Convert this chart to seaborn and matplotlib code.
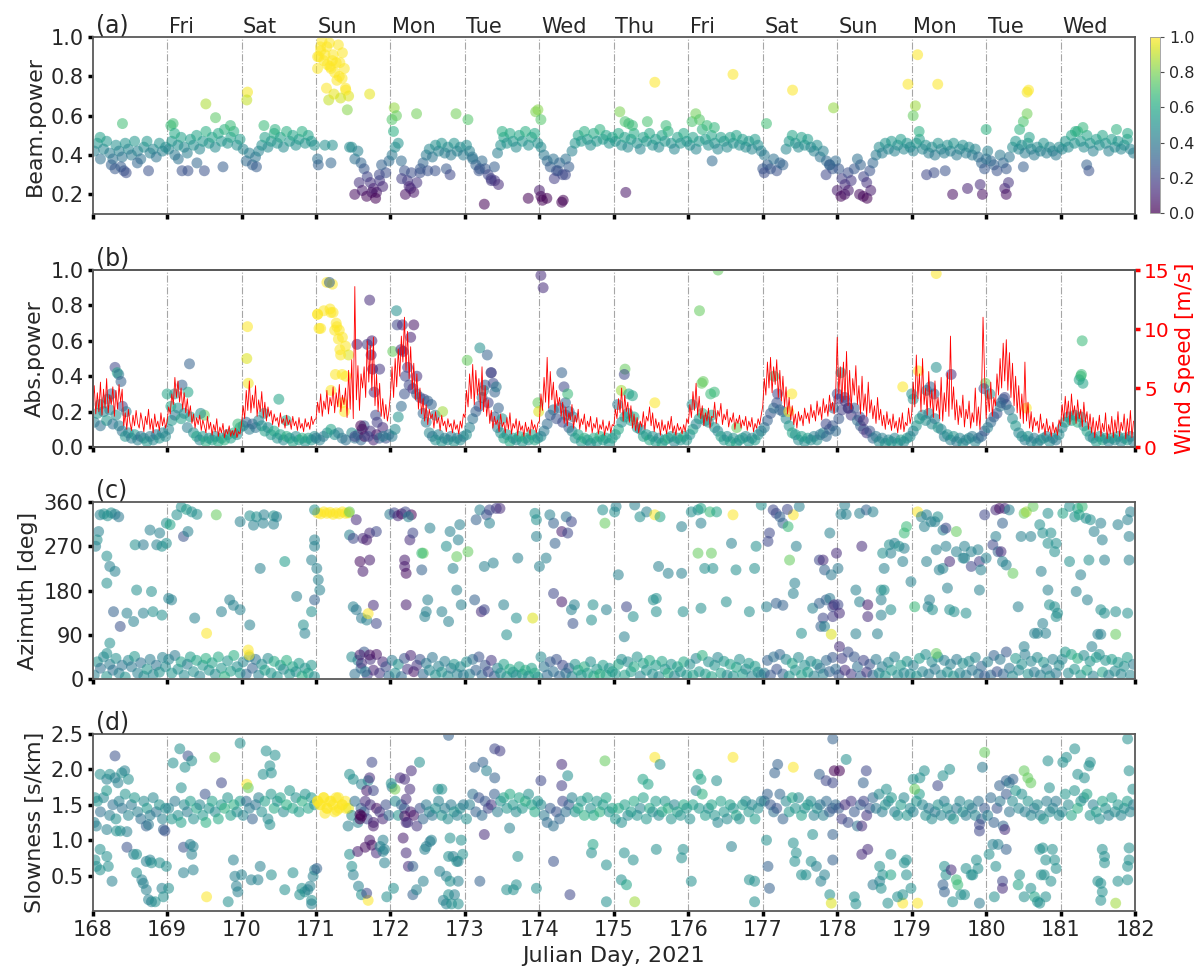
import numpy as np
import pandas as pd
import matplotlib
matplotlib.use("Agg")
import matplotlib.pyplot as plt
import matplotlib.transforms as mtransforms
from matplotlib.colors import Normalize
import seaborn as sns

sns.set_style("white")
plt.rcParams['font.family'] = ['DejaVu Sans']

# ---------------- data ----------------
first_day = 168
day_ticks = list(range(168, 183))
day_lines = list(range(169, 182))
day_names = ["Fri", "Sat", "Sun", "Mon", "Tue", "Wed", "Thu",
             "Fri", "Sat", "Sun", "Mon", "Tue", "Wed"]

# hourly beam power (also the colour of every hourly point), one row per day 168..181
beam_power = [
    [0.42,0.46,0.38,0.43,0.47,0.41,0.38,0.45,0.42,0.39,0.46,0.43,0.40,0.47,0.42,0.38,0.44,0.47,0.41,0.43,0.39,0.46,0.42,0.44],
    [0.43,0.47,0.40,0.45,0.49,0.44,0.41,0.48,0.45,0.50,0.43,0.47,0.52,0.46,0.49,0.44,0.51,0.47,0.53,0.46,0.49,0.52,0.45,0.48],
    [0.43,0.37,0.41,0.35,0.39,0.42,0.45,0.49,0.44,0.47,0.51,0.46,0.49,0.44,0.52,0.47,0.50,0.45,0.48,0.52,0.46,0.50,0.47,0.45],
    [0.90,0.93,0.88,0.95,0.85,0.91,0.87,0.80,0.92,0.74,0.70,0.44,0.38,0.42,0.36,0.33,0.29,0.26,0.23,0.21,0.27,0.24,0.31,0.37],
    [0.40,0.44,0.46,0.37,0.32,0.27,0.23,0.21,0.26,0.31,0.36,0.40,0.43,0.39,0.45,0.42,0.46,0.41,0.44,0.40,0.46,0.42,0.44,0.40],
    [0.45,0.42,0.38,0.35,0.32,0.37,0.33,0.30,0.27,0.34,0.41,0.45,0.49,0.46,0.51,0.47,0.44,0.50,0.47,0.52,0.45,0.49,0.51,0.46],
    [0.44,0.40,0.37,0.34,0.38,0.32,0.36,0.30,0.38,0.34,0.42,0.46,0.50,0.47,0.52,0.48,0.45,0.51,0.47,0.53,0.48,0.50,0.46,0.49],
    [0.47,0.51,0.45,0.49,0.44,0.48,0.51,0.46,0.43,0.49,0.47,0.51,0.45,0.48,0.44,0.50,0.47,0.52,0.46,0.43,0.49,0.46,0.51,0.47],
    [0.45,0.49,0.43,0.47,0.53,0.48,0.45,0.50,0.46,0.43,0.49,0.47,0.44,0.49,0.46,0.50,0.45,0.48,0.44,0.47,0.43,0.48,0.45,0.42],
    [0.40,0.35,0.33,0.38,0.32,0.36,0.35,0.43,0.47,0.50,0.46,0.44,0.49,0.45,0.48,0.44,0.42,0.45,0.39,0.42,0.37,0.35,0.33,0.37],
    [0.33,0.28,0.25,0.31,0.27,0.33,0.38,0.35,0.29,0.26,0.32,0.36,0.40,0.44,0.41,0.46,0.43,0.47,0.42,0.45,0.48,0.43,0.46,0.44],
    [0.42,0.46,0.48,0.43,0.45,0.41,0.44,0.40,0.46,0.43,0.41,0.45,0.42,0.46,0.40,0.43,0.45,0.41,0.44,0.40,0.43,0.39,0.36,0.33],
    [0.42,0.37,0.35,0.32,0.40,0.36,0.33,0.39,0.44,0.47,0.43,0.45,0.41,0.46,0.43,0.40,0.44,0.42,0.46,0.41,0.44,0.42,0.40,0.44],
    [0.43,0.47,0.44,0.50,0.46,0.52,0.47,0.44,0.50,0.46,0.42,0.48,0.45,0.50,0.46,0.42,0.48,0.44,0.47,0.43,0.45,0.48,0.43,0.41],
]

abs_power = [
    [0.14,0.19,0.12,0.20,0.15,0.21,0.13,0.18,0.12,0.09,0.06,0.08,0.05,0.07,0.04,0.06,0.05,0.03,0.06,0.04,0.07,0.05,0.08,0.06],
    [0.10,0.15,0.18,0.22,0.16,0.19,0.11,0.17,0.08,0.06,0.04,0.06,0.03,0.05,0.04,0.06,0.03,0.05,0.04,0.07,0.05,0.08,0.07,0.11],
    [0.12,0.14,0.10,0.13,0.11,0.15,0.12,0.09,0.11,0.07,0.09,0.05,0.07,0.04,0.06,0.05,0.03,0.06,0.04,0.05,0.03,0.05,0.04,0.06],
    [0.75,0.67,0.77,0.93,0.78,0.76,0.70,0.66,0.62,0.57,0.52,0.08,0.05,0.07,0.04,0.12,0.58,0.09,0.04,0.07,0.44,0.11,0.05,0.07],
    [0.06,0.10,0.17,0.23,0.30,0.45,0.62,0.69,0.40,0.28,0.19,0.14,0.08,0.06,0.04,0.07,0.03,0.05,0.04,0.06,0.03,0.05,0.04,0.06],
    [0.07,0.11,0.16,0.20,0.23,0.28,0.35,0.25,0.42,0.17,0.11,0.08,0.05,0.07,0.03,0.05,0.04,0.06,0.03,0.05,0.04,0.07,0.04,0.05],
    [0.06,0.09,0.13,0.18,0.21,0.16,0.22,0.14,0.18,0.11,0.09,0.05,0.07,0.03,0.05,0.04,0.02,0.05,0.03,0.06,0.04,0.05,0.02,0.05],
    [0.07,0.10,0.14,0.17,0.19,0.15,0.17,0.11,0.10,0.06,0.07,0.04,0.06,0.03,0.05,0.02,0.04,0.05,0.06,0.03,0.05,0.04,0.06,0.04],
    [0.07,0.10,0.13,0.16,0.19,0.15,0.14,0.18,0.11,0.09,0.06,0.04,0.06,0.03,0.05,0.02,0.04,0.05,0.06,0.03,0.05,0.04,0.07,0.09],
    [0.11,0.15,0.19,0.22,0.25,0.21,0.20,0.16,0.12,0.08,0.07,0.04,0.06,0.03,0.05,0.04,0.06,0.04,0.07,0.08,0.06,0.10,0.12,0.09],
    [0.16,0.21,0.26,0.22,0.18,0.22,0.15,0.12,0.10,0.08,0.09,0.05,0.06,0.03,0.05,0.02,0.04,0.03,0.05,0.02,0.04,0.03,0.05,0.06],
    [0.09,0.12,0.16,0.18,0.15,0.19,0.13,0.16,0.11,0.10,0.06,0.07,0.04,0.06,0.03,0.05,0.02,0.04,0.05,0.06,0.03,0.05,0.06,0.09],
    [0.11,0.14,0.17,0.19,0.23,0.27,0.24,0.21,0.16,0.12,0.08,0.06,0.04,0.06,0.03,0.05,0.02,0.04,0.05,0.06,0.03,0.05,0.04,0.07],
    [0.11,0.14,0.17,0.15,0.18,0.14,0.17,0.12,0.09,0.06,0.05,0.03,0.06,0.04,0.05,0.03,0.05,0.04,0.06,0.03,0.05,0.04,0.06,0.03],
]

azimuth = [
    [8,35,22,45,5,30,18,42,12,28,4,38,25,46,12,33,6,20,40,9,28,14,44,25],
    [40,12,48,20,35,8,30,45,15,38,6,28,42,18,33,10,45,22,5,37,16,48,25,12],
    [35,10,45,22,40,8,30,18,42,12,36,5,28,20,38,10,25,15,32,6,22,12,28,5],
    [338,336,340,337,339,335,338,336,340,337,338,45,10,38,22,55,8,40,18,50,12,35,25,6],
    [38,12,30,5,42,20,48,15,28,40,10,32,18,44,8,26,14,36,6,22,30,10,25,8],
    [35,10,40,18,45,8,28,15,38,6,22,12,30,5,20,14,8,25,10,18,6,22,12,4],
    [45,25,8,35,15,40,6,28,12,22,5,30,18,8,25,12,35,6,20,10,28,8,22,15],
    [10,30,40,8,35,15,25,45,6,32,18,38,10,28,5,36,20,12,30,6,25,15,35,8],
    [30,8,42,15,48,10,35,5,28,44,12,36,8,30,6,24,40,10,20,32,6,26,14,8],
    [12,38,8,45,20,50,10,40,6,32,18,44,8,28,14,36,6,30,22,10,38,15,44,20],
    [8,42,18,55,10,45,25,6,38,14,30,8,40,12,25,6,34,18,45,8,28,12,36,10],
    [28,6,42,15,50,10,35,20,45,8,38,14,30,6,40,12,32,8,36,18,44,10,26,6],
    [35,8,48,15,40,10,55,22,6,42,18,30,50,10,36,14,44,8,34,20,6,40,12,28],
    [40,55,12,50,20,42,8,48,18,36,6,44,50,14,38,8,40,16,34,10,26,44,8,30],
]

slowness = [
    [1.25,1.55,1.40,1.60,1.70,1.35,1.50,1.30,1.55,1.45,1.65,1.35,1.50,1.60,1.40,1.30,1.55,1.45,1.35,1.60,1.40,1.50,1.30,1.45],
    [1.45,1.30,1.55,1.35,1.25,1.50,1.40,1.55,1.30,1.45,1.50,1.35,1.25,1.45,1.55,1.40,1.30,1.50,1.45,1.60,1.35,1.50,1.40,1.55],
    [1.35,1.55,1.45,1.30,1.50,1.60,1.40,1.55,1.30,1.65,1.45,1.55,1.60,1.40,1.50,1.70,1.45,1.60,1.40,1.55,1.65,1.45,1.60,1.50],
    [1.55,1.50,1.60,1.45,1.55,1.50,1.60,1.45,1.50,1.55,1.45,1.35,1.55,1.25,1.45,1.40,1.30,1.50,1.25,1.45,1.40,1.30,1.50,1.35],
    [1.75,1.55,1.35,1.50,1.45,1.25,1.40,1.35,1.20,1.45,1.30,1.50,1.40,1.35,1.45,1.55,1.35,1.45,1.30,1.50,1.40,1.35,1.45,1.50],
    [1.30,1.50,1.65,1.40,1.60,1.35,1.55,1.45,1.50,1.65,1.40,1.55,1.60,1.45,1.65,1.50,1.40,1.60,1.45,1.55,1.65,1.50,1.40,1.55],
    [1.50,1.35,1.25,1.45,1.20,1.40,1.30,1.55,1.40,1.50,1.60,1.40,1.45,1.55,1.35,1.60,1.45,1.35,1.55,1.40,1.50,1.60,1.40,1.45],
    [1.30,1.45,1.25,1.50,1.35,1.40,1.55,1.35,1.45,1.60,1.30,1.45,1.40,1.55,1.35,1.40,1.55,1.45,1.30,1.50,1.40,1.35,1.50,1.45],
    [1.30,1.50,1.70,1.45,1.65,1.35,1.45,1.50,1.35,1.25,1.55,1.40,1.30,1.50,1.45,1.35,1.30,1.50,1.55,1.40,1.50,1.30,1.45,1.55],
    [1.55,1.65,1.50,1.40,1.45,1.65,1.30,1.55,1.40,1.60,1.45,1.60,1.35,1.45,1.50,1.55,1.35,1.45,1.50,1.35,1.55,1.40,1.45,1.50],
    [1.45,1.30,1.50,1.25,1.55,1.40,1.20,1.50,1.55,1.35,1.45,1.60,1.45,1.65,1.40,1.50,1.55,1.60,1.40,1.35,1.50,1.60,1.35,1.45],
    [1.40,1.55,1.65,1.50,1.35,1.45,1.30,1.40,1.50,1.35,1.55,1.45,1.35,1.30,1.45,1.55,1.40,1.35,1.50,1.45,1.35,1.55,1.30,1.45],
    [1.35,1.60,1.25,1.45,1.55,1.20,1.65,1.40,1.55,1.70,1.45,1.65,1.40,1.55,1.35,1.45,1.50,1.35,1.30,1.55,1.40,1.45,1.55,1.35],
    [1.40,1.65,1.50,1.35,1.70,1.45,1.55,1.60,1.65,1.35,1.50,1.40,1.30,1.55,1.45,1.35,1.60,1.40,1.50,1.35,1.45,1.55,1.40,1.50],
]

# half-hourly wind speed [m/s], one row per day
wind_speed = [
    [3.5,5.2,2.8,4.6,3.0,5.5,2.7,4.9,3.3,5.8,2.9,4.4,3.6,5.1,2.6,4.8,3.2,5.3,3.8,4.9,1.8,2.9,1.5,3.2,2.1,1.4,2.7,1.8,3.1,2.0,1.6,2.9,2.2,1.3,2.6,1.9,3.2,1.5,2.4,1.2,2.8,1.7,2.2,1.4,2.9,1.8,2.5,1.6],
    [2.2,3.4,2.8,4.5,3.6,5.9,4.2,5.6,3.8,5.0,3.2,4.6,2.9,4.1,2.6,3.5,2.0,2.8,1.6,2.5,1.9,2.7,1.4,2.3,1.8,1.2,2.6,1.5,2.1,1.0,1.9,1.3,2.4,0.9,1.7,1.2,2.0,0.8,1.5,1.1,1.8,0.9,1.4,1.0,1.6,0.8,1.3,1.1],
    [2.0,3.5,2.4,4.8,3.1,5.6,2.9,4.4,3.3,5.2,2.6,4.0,3.0,4.7,2.5,3.8,2.2,3.4,2.6,3.1,1.9,2.8,2.2,2.5,1.7,2.9,2.0,2.4,1.6,2.7,1.9,2.3,1.5,2.6,1.8,2.2,1.4,2.5,1.6,2.0,1.3,2.4,1.7,2.1,1.5,2.6,1.9,2.3],
    [2.4,3.8,2.9,4.5,2.6,3.9,3.2,4.8,2.8,4.2,3.5,5.1,2.9,4.6,3.4,5.3,3.0,4.4,3.6,5.0,2.5,6.5,3.2,7.4,2.4,13.6,4.0,6.9,3.1,6.2,5.0,6.8,4.2,9.0,5.5,8.6,4.8,9.3,3.5,6.2,3.0,5.4,2.6,4.1,2.4,3.6,2.2,3.1],
    [4.5,6.8,4.2,7.5,5.1,8.3,6.0,9.4,7.2,11.0,6.5,9.8,5.8,8.5,4.9,7.1,4.0,6.2,3.2,5.0,2.8,4.1,2.2,3.6,1.9,3.2,2.4,2.8,1.6,3.0,2.0,2.5,1.4,2.7,1.8,2.2,1.3,2.4,1.7,2.0,1.2,2.3,1.5,1.9,1.1,2.2,1.6,2.8],
    [2.5,4.8,3.4,6.2,4.1,7.0,3.6,6.5,4.4,5.8,3.2,6.8,3.0,5.2,2.6,4.0,2.0,3.1,1.6,2.6,1.9,2.3,1.3,2.8,1.7,2.1,1.2,2.5,1.5,2.9,1.1,2.0,1.6,2.4,1.0,2.2,1.4,1.8,0.9,2.1,1.3,1.7,1.0,2.3,1.5,1.9,1.2,2.0],
    [2.2,4.5,3.1,5.9,3.8,7.6,3.3,6.4,4.0,5.5,2.9,4.8,3.5,4.2,2.6,3.8,2.0,3.4,1.8,2.9,2.3,3.6,1.6,2.7,2.1,3.2,1.5,2.4,1.9,2.8,1.3,2.2,1.7,2.6,1.2,2.0,1.6,2.5,1.1,1.9,1.5,2.3,1.0,1.8,1.4,2.2,1.2,1.9],
    [1.8,3.2,2.4,4.1,2.9,5.0,2.2,4.4,3.0,3.8,2.1,3.5,1.6,2.8,1.4,2.5,1.2,2.2,1.7,3.0,1.5,2.6,2.2,3.4,1.8,2.9,1.3,2.4,1.6,2.1,1.0,2.3,1.4,1.9,1.1,2.2,1.5,2.6,1.2,1.8,1.0,2.0,1.4,1.7,1.1,1.9,1.3,2.4],
    [2.0,3.6,2.5,4.7,3.1,5.4,2.7,4.3,2.4,3.5,1.8,2.9,2.2,3.3,1.6,2.6,2.5,3.8,2.0,3.1,2.6,3.7,1.9,2.8,2.3,3.2,1.7,2.5,2.1,2.9,1.5,2.4,2.0,2.7,1.6,2.3,1.8,2.6,1.4,2.2,1.7,2.5,1.3,2.0,1.6,2.4,1.9,2.7],
    [3.5,5.8,4.4,7.2,5.0,7.6,4.6,6.8,5.3,7.4,4.2,6.5,3.9,6.0,3.4,5.1,2.8,4.2,2.3,3.5,1.9,2.8,1.6,3.0,2.2,2.7,1.8,3.3,2.4,2.9,2.0,3.6,2.5,3.1,2.2,3.9,2.7,3.4,2.3,4.1,2.9,3.6,2.6,4.4,3.1,3.8,2.8,4.6],
    [9.3,4.5,6.8,3.8,7.2,4.0,8.1,3.5,6.5,3.2,5.8,4.4,6.9,3.6,5.2,2.8,6.0,3.1,4.5,2.6,5.5,2.9,4.0,2.4,3.5,2.0,4.2,2.3,3.2,1.8,2.7,1.5,3.0,1.9,2.4,1.4,2.8,1.6,2.2,1.2,2.5,1.5,2.9,1.3,2.1,1.8,3.3,2.0],
    [2.8,5.5,3.4,7.8,4.1,6.2,3.0,7.5,3.6,5.0,2.7,6.4,3.3,4.8,2.5,5.6,3.1,4.2,2.4,5.9,2.2,4.6,3.0,6.3,2.6,9.4,3.2,5.1,2.3,4.0,1.9,3.5,2.5,4.4,1.7,3.2,2.4,3.9,1.6,2.9,2.1,5.0,1.8,3.4,1.5,4.2,11.0,6.0],
    [2.4,4.8,3.0,5.5,2.6,4.2,3.5,6.2,4.4,7.5,5.0,8.8,5.6,9.1,4.8,8.0,4.2,7.1,3.5,6.0,2.9,5.2,2.4,4.5,2.0,7.2,2.2,3.8,1.6,3.0,1.3,2.5,1.8,2.2,1.2,2.8,1.5,2.0,1.0,2.4,1.3,1.8,0.9,2.1,1.2,1.7,1.0,2.3],
    [1.8,3.6,2.2,4.3,2.5,3.9,1.9,4.5,2.7,3.5,2.0,4.0,2.4,3.2,1.7,3.8,2.1,3.0,1.5,2.8,1.2,2.5,0.8,2.2,1.4,2.7,0.9,2.0,1.3,2.9,0.7,1.9,1.1,2.6,0.8,2.3,1.2,3.0,0.9,2.1,1.4,2.8,0.7,2.4,1.0,3.1,0.8,2.2],
]

# extra detections (time [Julian day], value) in panel (a); colour = value
beam_extra = [
    (168.10,0.49),(168.25,0.35),(168.30,0.33),(168.38,0.34),(168.42,0.32),(168.45,0.31),(168.40,0.56),(168.75,0.32),(168.60,0.36),
    (169.05,0.55),(169.08,0.56),(169.10,0.51),(169.15,0.38),(169.20,0.32),(169.28,0.32),(169.40,0.36),(169.52,0.66),(169.50,0.32),(169.65,0.59),(169.75,0.34),(169.85,0.55),
    (170.08,0.72),(170.07,0.68),(170.20,0.34),(170.30,0.55),(170.45,0.53),
    (171.02,0.84),(171.04,0.90),(171.06,0.95),(171.08,0.98),(171.12,0.91),(171.15,0.86),(171.18,0.97),(171.20,0.84),(171.22,0.88),(171.25,0.82),(171.28,0.78),
    (171.30,0.96),(171.32,0.87),(171.35,0.79),(171.38,0.84),(171.40,0.73),(171.14,0.74),(171.17,0.68),(171.24,0.71),(171.33,0.69),(171.42,0.63),
    (171.02,0.38),(171.03,0.35),(171.12,0.45),(171.20,0.36),(171.22,0.45),(171.45,0.44),
    (171.52,0.20),(171.58,0.26),(171.62,0.22),(171.68,0.19),(171.75,0.21),(171.80,0.18),(171.72,0.71),(171.85,0.30),(171.88,0.35),
    (172.02,0.58),(172.05,0.64),(172.08,0.60),(172.04,0.52),(172.15,0.28),(172.20,0.20),(172.25,0.24),(172.28,0.31),(172.35,0.61),(172.40,0.33),(172.50,0.32),(172.60,0.32),(172.75,0.33),(172.80,0.30),(172.88,0.61),
    (173.04,0.58),(173.10,0.39),(173.20,0.33),(173.26,0.15),(173.35,0.28),(173.40,0.27),(173.45,0.25),(173.50,0.52),
    (173.95,0.62),(173.98,0.63),(174.02,0.58),(174.00,0.22),(174.02,0.19),(174.04,0.17),(174.10,0.18),(174.30,0.16),(174.32,0.17),(174.20,0.28),(174.25,0.32),(174.35,0.30),(173.85,0.18),
    (175.08,0.62),(175.15,0.57),(175.20,0.56),(175.25,0.55),(175.16,0.21),(175.55,0.77),(175.45,0.57),(175.70,0.55),
    (176.05,0.57),(176.10,0.61),(176.15,0.58),(176.25,0.55),(176.35,0.54),(176.60,0.81),(176.32,0.37),
    (177.05,0.56),(177.40,0.73),(177.00,0.33),(177.02,0.31),(177.85,0.30),(177.95,0.64),(177.90,0.35),
    (178.00,0.22),(178.05,0.19),(178.10,0.20),(178.15,0.22),(178.30,0.20),(178.35,0.19),(178.40,0.18),(178.45,0.22),
    (178.95,0.76),(179.08,0.91),(179.05,0.65),(179.02,0.60),(179.10,0.52),(179.35,0.76),(179.20,0.30),(179.30,0.31),(179.45,0.32),(179.55,0.20),
    (179.75,0.23),(179.95,0.20),(179.92,0.25),(180.00,0.53),(180.00,0.38),(180.25,0.23),(180.27,0.20),(180.30,0.26),(180.45,0.53),(180.50,0.57),
    (180.55,0.61),(180.58,0.49),(180.55,0.72),(180.57,0.73),(180.50,0.34),
    (181.35,0.35),(181.38,0.32),(181.20,0.52),(181.30,0.54),(181.75,0.53),(181.90,0.51),
]

# extra detections in panel (b): (time, abs power, beam power)
abs_extra = [
    (168.30,0.45,0.30),(168.33,0.42,0.50),(168.35,0.41,0.40),(168.38,0.37,0.35),(168.40,0.23,0.30),(168.25,0.30,0.35),(168.20,0.27,0.40),(168.10,0.24,0.45),(168.45,0.20,0.40),
    (169.00,0.30,0.50),(169.05,0.23,0.50),(169.20,0.35,0.35),(169.30,0.47,0.35),(169.28,0.31,0.50),(169.10,0.30,0.45),(169.50,0.18,0.60),(169.45,0.19,0.45),
    (170.08,0.68,0.75),(170.07,0.50,0.70),(170.09,0.36,0.72),(170.30,0.19,0.45),(170.50,0.27,0.50),(170.60,0.15,0.50),(169.95,0.13,0.55),
    (171.02,0.75,0.90),(171.04,0.67,0.90),(171.20,0.76,0.85),(171.22,0.92,0.90),(171.18,0.93,0.35),(171.25,0.66,0.90),(171.28,0.68,0.85),(171.30,0.61,0.90),
    (171.32,0.55,0.90),(171.33,0.52,0.85),(171.35,0.41,0.80),(171.26,0.41,0.85),(171.20,0.32,0.80),(171.35,0.25,0.75),(171.38,0.20,0.75),(171.40,0.40,0.80),
    (171.00,0.05,0.40),(171.05,0.04,0.42),(171.10,0.06,0.40),(171.15,0.08,0.45),(171.20,0.10,0.50),(171.25,0.07,0.45),(171.30,0.08,0.42),(171.35,0.05,0.40),(171.40,0.04,0.38),
    (171.55,0.58,0.22),(171.60,0.12,0.15),(171.62,0.10,0.20),(171.65,0.06,0.20),(171.72,0.83,0.25),(171.75,0.60,0.22),(171.74,0.52,0.20),(171.76,0.44,0.20),
    (171.78,0.31,0.25),(171.80,0.18,0.30),(171.82,0.14,0.28),(171.70,0.06,0.30),(171.85,0.05,0.35),(171.90,0.06,0.40),(171.52,0.06,0.30),
    (172.03,0.54,0.60),(172.08,0.77,0.45),(172.09,0.69,0.30),(172.16,0.69,0.25),(172.14,0.55,0.25),(172.17,0.54,0.22),(172.20,0.40,0.30),(172.25,0.35,0.30),
    (172.30,0.33,0.25),(172.35,0.30,0.35),(172.45,0.27,0.30),(172.50,0.26,0.35),(172.55,0.24,0.35),(172.60,0.18,0.40),(172.70,0.20,0.65),
    (173.03,0.49,0.60),(173.20,0.56,0.45),(173.30,0.52,0.35),(173.35,0.42,0.30),(173.38,0.36,0.30),(173.40,0.31,0.35),(173.42,0.34,0.40),(173.45,0.22,0.35),(173.50,0.16,0.45),(173.25,0.32,0.40),
    (174.02,0.97,0.25),(174.05,0.90,0.25),(173.98,0.25,0.60),(173.99,0.20,0.70),(174.30,0.42,0.35),(174.33,0.34,0.30),(174.35,0.25,0.35),(174.38,0.30,0.55),(174.40,0.20,0.35),(174.45,0.17,0.40),
    (175.15,0.44,0.60),(175.14,0.41,0.30),(175.10,0.32,0.65),(175.20,0.30,0.50),(175.25,0.29,0.50),(175.05,0.24,0.40),(175.55,0.25,0.80),
    (176.15,0.77,0.60),(176.18,0.36,0.60),(176.20,0.37,0.60),(176.30,0.30,0.55),(176.35,0.31,0.55),(176.05,0.24,0.45),(176.40,1.00,0.60),(176.65,0.11,0.60),
    (177.15,0.40,0.55),(177.20,0.30,0.30),(177.35,0.20,0.75),(177.39,0.30,0.80),(177.85,0.13,0.30),(177.95,0.22,0.35),
    (178.05,0.42,0.45),(178.00,0.30,0.30),(178.02,0.27,0.25),(178.10,0.28,0.30),(178.15,0.22,0.25),(178.30,0.17,0.30),(178.35,0.15,0.25),(178.88,0.34,0.80),
    (179.00,0.30,0.45),(179.02,0.27,0.45),(179.09,0.43,0.75),(179.33,0.98,0.85),(179.33,0.45,0.45),(179.53,0.41,0.25),(179.20,0.32,0.40),(179.25,0.34,0.35),(179.30,0.30,0.35),
    (179.99,0.36,0.60),(179.97,0.33,0.30),(180.05,0.30,0.45),(180.25,0.28,0.30),(180.20,0.25,0.35),(180.54,0.22,0.80),
    (181.29,0.60,0.55),(181.27,0.40,0.55),(181.25,0.38,0.50),(181.30,0.36,0.50),(181.28,0.41,0.55),
]

# extra detections in panel (c): (time, azimuth, beam power)
azimuth_extra = [
    (168.10,334,.42),(168.15,336,.45),(168.20,332,.45),(168.25,338,.45),(168.30,335,.42),(168.35,330,.40),(168.08,300,.42),(168.06,283,.45),(168.04,270,.42),
    (168.19,250,.45),(168.23,229,.42),(168.30,219,.42),(168.19,195,.45),(168.57,273,.45),(168.68,273,.40),(168.86,273,.42),(168.93,270,.45),(168.59,181,.45),
    (168.79,178,.45),(168.28,137,.35),(168.46,134,.42),(168.55,117,.42),(168.68,134,.42),(168.81,137,.45),(168.93,130,.45),(168.37,107,.32),(168.23,73,.45),
    (168.19,52,.45),(168.77,303,.42),(168.90,297,.42),(168.99,317,.45),(168.99,276,.45),
    (169.04,314,.50),(169.13,334,.45),(169.19,350,.45),(169.26,345,.48),(169.33,340,.45),(169.40,335,.45),(169.22,290,.32),(169.28,300,.42),(169.02,164,.42),
    (169.06,161,.42),(169.37,124,.42),(169.53,93,.75),(169.66,334,.60),(169.73,137,.42),(169.84,161,.42),(169.89,150,.42),(169.98,141,.42),
    (169.98,320,.42),(170.11,332,.45),(170.20,330,.45),(170.30,334,.42),(170.43,332,.45),(170.47,330,.42),(170.16,313,.42),(170.29,317,.42),(170.43,315,.42),
    (170.25,225,.42),(170.58,239,.48),(170.11,110,.42),(170.09,59,.80),(170.10,49,.75),(170.74,168,.42),(170.83,110,.45),(170.85,93,.42),
    (170.98,344,.45),(171.45,340,.60),(170.98,283,.42),(170.98,270,.42),(170.94,242,.42),(171.01,225,.42),(171.03,202,.42),(171.05,181,.42),(170.98,161,.35),
    (170.94,137,.45),(171.45,293,.42),(171.50,286,.30),(171.54,324,.25),(171.63,286,.25),(171.68,283,.22),(171.72,297,.25),(171.81,300,.30),(171.59,239,.20),
    (171.63,219,.22),(171.72,242,.22),(171.50,147,.42),(171.54,141,.40),(171.61,124,.40),(171.68,120,.42),(171.77,150,.25),(171.70,133,.80),(171.81,113,.30),
    (171.59,49,.22),(171.61,32,.25),(171.72,49,.20),(171.66,15,.40),
    (171.99,335,.40),(172.05,338,.30),(172.10,332,.25),(172.15,336,.20),(172.28,334,.15),(172.20,340,.30),(172.24,330,.42),(172.19,242,.22),(172.19,229,.22),
    (172.21,215,.20),(172.21,151,.22),(172.26,283,.25),(172.30,297,.30),(172.53,307,.42),(172.44,256,.60),(172.42,256,.55),(172.42,222,.35),(172.50,161,.42),
    (172.48,137,.42),(172.46,127,.42),(172.75,270,.45),(172.80,300,.42),(172.91,283,.42),(172.93,314,.42),(172.89,249,.60),(172.84,225,.42),(172.89,181,.42),
    (172.95,151,.42),(172.78,117,.42),(172.69,137,.42),
    (173.15,324,.35),(173.20,344,.42),(173.29,334,.32),(173.33,344,.30),(173.42,347,.28),(173.47,347,.25),(173.33,317,.42),(173.04,259,.60),(173.26,229,.42),
    (173.38,236,.42),(173.13,161,.35),(173.22,137,.25),(173.26,141,.30),(173.52,151,.42),(173.56,90,.45),(173.69,124,.45),(173.91,124,.70),(173.71,246,.42),
    (173.94,337,.45),(173.96,324,.45),(173.96,290,.42),(174.00,229,.42),(174.09,246,.42),(174.14,334,.42),(174.19,317,.35),(174.21,276,.35),(174.30,300,.22),
    (174.38,297,.30),(174.36,330,.38),(174.43,320,.30),(174.19,174,.30),(174.30,157,.22),(174.45,113,.32),(174.47,151,.42),(174.43,141,.42),(174.72,151,.45),
    (174.70,120,.45),(174.85,344,.45),(174.88,317,.60),(175.01,340,.45),(175.03,351,.42),(175.06,212,.42),(174.90,141,.42),(175.26,127,.45),(175.17,147,.30),
    (175.14,86,.42),
    (175.28,354,.42),(175.35,330,.45),(175.44,340,.42),(175.55,334,.80),(175.62,330,.50),(175.60,229,.42),(175.73,215,.42),(175.91,310,.42),(175.91,215,.42),
    (175.53,161,.45),(175.57,164,.45),(175.57,137,.45),(175.93,137,.45),
    (176.04,340,.45),(176.13,344,.45),(176.17,347,.50),(176.29,340,.55),(176.38,340,.50),(176.17,317,.42),(176.60,334,.80),(176.13,256,.60),(176.31,256,.60),
    (176.22,225,.45),(176.33,225,.45),(176.64,222,.45),(176.58,276,.42),(176.89,225,.45),(176.91,270,.45),(176.17,144,.45),(176.51,157,.45),(176.82,137,.45),
    (176.98,354,.45),(177.14,344,.30),(177.18,337,.30),(177.23,330,.35),(177.27,317,.35),(177.34,310,.55),(177.41,334,.85),(177.09,297,.30),(177.07,280,.30),
    (177.45,270,.42),(177.36,242,.60),(177.43,195,.42),(177.41,174,.42),(177.05,147,.42),(177.18,154,.35),(177.27,150,.35),
    (177.33,345,.30),(177.49,351,.42),(177.52,93,.45),(177.76,242,.30),(177.81,242,.25),(177.83,222,.35),(177.90,297,.42),(177.92,212,.40),(177.67,144,.42),
    (177.76,154,.35),(177.85,161,.35),(177.90,164,.40),(177.94,147,.30),(177.96,151,.25),(178.01,151,.30),(177.81,124,.30),(177.94,127,.28),(178.03,134,.25),
    (177.78,107,.35),(177.83,107,.42),(177.92,91,.70),(177.99,256,.25),(178.01,225,.40),(178.03,66,.25),
    (178.05,335,.42),(178.12,335,.42),(178.30,337,.42),(178.39,344,.35),(178.48,340,.42),(178.10,354,.42),(178.33,270,.25),(178.25,181,.42),(178.30,157,.42),
    (178.41,151,.22),(178.41,127,.25),(178.25,92,.42),(178.54,92,.42),(178.59,181,.45),(178.63,181,.45),(178.59,161,.42),(178.72,141,.45),(178.59,130,.42),
    (178.61,256,.45),(178.70,273,.45),(178.77,276,.42),(178.83,270,.45),(178.90,266,.42),(178.72,256,.42),(178.63,225,.42),(178.88,239,.42),(178.93,310,.55),
    (178.90,297,.55),
    (178.99,198,.42),(179.04,147,.55),(179.08,340,.75),(179.13,330,.42),(179.20,334,.42),(179.26,320,.42),(179.35,330,.45),(179.31,320,.42),(179.17,310,.42),
    (179.42,303,.42),(179.46,307,.30),(179.60,300,.60),(179.20,239,.42),(179.33,263,.42),(179.42,225,.42),(179.37,222,.42),(179.46,270,.42),(179.60,259,.42),
    (179.71,270,.42),(179.80,259,.42),(179.89,263,.42),(179.51,239,.25),(179.69,246,.42),(179.71,246,.42),(179.80,229,.30),(179.91,239,.28),(179.93,222,.42),
    (179.24,161,.42),(179.22,147,.42),(179.28,141,.45),(179.51,141,.45),(179.57,137,.45),(179.73,134,.45),(179.48,185,.42),(179.91,181,.42),(179.33,52,.60),
    (179.98,334,.30),(180.13,344,.25),(180.18,347,.20),(180.25,347,.25),(180.31,344,.42),(180.22,317,.35),(180.13,290,.42),(180.36,215,.60),(180.09,273,.30),
    (180.16,259,.35),(180.20,259,.25),(180.22,239,.42),(180.27,232,.42),(180.00,246,.42),(180.51,337,.60),(180.54,340,.65),(180.63,351,.60),(180.47,290,.42),
    (180.60,290,.42),(180.72,314,.45),(180.83,337,.45),(180.76,297,.45),(180.83,276,.45),(180.87,297,.45),(180.92,259,.45),(180.94,276,.45),(180.74,219,.42),
    (180.83,181,.42),(180.43,147,.42),(180.76,113,.42),(180.65,93,.42),(180.69,93,.42),(180.80,93,.42),(180.85,151,.45),(180.92,147,.45),(180.96,134,.45),
    (180.94,127,.45),(180.51,66,.42),
    (181.03,337,.50),(181.12,351,.45),(181.23,347,.50),(181.29,351,.55),(181.19,330,.45),(181.25,334,.50),(181.34,327,.45),(181.40,324,.45),(181.45,300,.42),
    (181.54,317,.42),(181.56,283,.42),(181.77,314,.42),(181.90,324,.42),(181.92,290,.42),(181.94,340,.42),(181.12,239,.45),(181.27,212,.42),(181.38,242,.45),
    (181.59,242,.42),(181.92,242,.42),(181.21,178,.42),(181.36,161,.42),(181.54,141,.45),(181.59,134,.45),(181.74,137,.45),(181.90,134,.45),(181.50,91,.42),
    (181.54,91,.42),(181.74,91,.60),(181.42,66,.42),
]

# extra detections in panel (d): (time, slowness, beam power)
slowness_extra = [
    (168.03,1.60,.45),(168.05,1.20,.42),(168.03,0.72,.45),(168.05,0.63,.45),(168.10,0.58,.45),(168.10,1.93,.45),(168.19,1.86,.42),(168.23,1.93,.45),(168.30,2.19,.32),
    (168.30,1.88,.42),(168.34,1.81,.42),(168.39,1.95,.45),(168.43,1.98,.42),(168.48,1.86,.45),(168.19,1.15,.42),(168.32,1.13,.45),(168.37,1.13,.45),(168.46,1.12,.42),
    (168.46,0.90,.32),(168.10,0.87,.45),(168.19,0.77,.45),(168.21,0.63,.45),(168.26,0.42,.42),(168.55,0.80,.42),(168.59,0.80,.45),(168.59,0.54,.45),(168.66,0.44,.42),
    (168.68,0.39,.42),(168.72,0.30,.42),(168.75,0.16,.42),(168.79,0.13,.42),(168.84,0.13,.45),(168.72,0.70,.42),(168.77,0.72,.42),(168.79,0.68,.45),(168.90,0.68,.45),
    (168.99,0.63,.45),(168.93,0.32,.42),(168.95,0.20,.45),(169.02,0.32,.45),(168.72,1.20,.35),(168.75,1.22,.40),(168.95,1.15,.35),(168.97,1.13,.32),
    (169.08,2.09,.45),(169.17,2.29,.45),(169.24,2.03,.45),(169.28,2.19,.32),(169.33,2.12,.45),(169.19,1.74,.45),(169.22,0.90,.32),(169.31,0.94,.42),(169.33,0.80,.42),
    (169.35,0.91,.42),(169.22,0.54,.42),(169.35,0.58,.42),(169.51,1.65,.32),(169.53,0.20,.75),(169.64,2.17,.62),(169.73,1.81,.30),(169.82,0.13,.45),(169.89,0.72,.42),
    (169.91,0.49,.42),(169.93,0.35,.42),(169.95,0.27,.42),
    (169.98,2.37,.45),(170.07,1.79,.80),(170.09,1.74,.60),(170.13,0.44,.42),(170.22,0.44,.42),(170.00,0.51,.42),(170.25,0.63,.42),(170.29,1.93,.45),(170.33,2.26,.45),
    (170.38,2.05,.45),(170.40,1.95,.45),(170.45,2.20,.45),(170.40,0.51,.45),(170.38,1.22,.45),(170.58,0.30,.45),(170.69,0.54,.45),(170.78,0.23,.45),(170.81,0.32,.45),
    (170.85,0.27,.45),(170.89,0.30,.42),(170.94,0.15,.45),(170.96,0.49,.42),(170.98,0.58,.42),(171.01,0.60,.35),(170.94,0.10,.42),(170.92,0.35,.42),
    (171.02,1.55,.90),(171.05,1.50,.90),(171.10,1.60,.85),(171.15,1.45,.90),(171.20,1.55,.90),(171.25,1.40,.85),(171.30,1.60,.90),(171.35,1.50,.85),(171.40,1.45,.85),
    (171.12,1.38,.90),(171.28,1.42,.90),
    (171.45,1.93,.45),(171.50,1.86,.45),(171.61,1.79,.42),(171.70,1.84,.42),(171.43,1.20,.42),(171.45,0.80,.45),(171.48,0.63,.45),(171.50,0.51,.42),(171.57,0.35,.42),
    (171.61,0.23,.45),(171.56,0.84,.22),(171.66,0.90,.20),(171.61,1.34,.10),(171.59,1.36,.12),(171.59,1.30,.15),(171.72,1.00,.22),(171.75,0.93,.20),(171.75,2.10,.30),
    (171.72,1.88,.25),(171.68,1.70,.22),(171.66,1.55,.25),(171.77,1.70,.30),(171.77,1.20,.22),(171.81,0.82,.25),(171.86,0.91,.42),(171.70,0.15,.85),(171.68,0.25,.30),
    (171.90,0.84,.42),(171.92,0.68,.42),
    (171.95,0.20,.45),(172.04,0.32,.45),(171.90,1.00,.42),(171.92,0.87,.42),(172.06,1.72,.62),(172.01,1.80,.45),(172.13,1.88,.25),(172.19,1.86,.25),(172.28,1.98,.25),
    (172.26,1.72,.25),(172.21,1.58,.25),(172.19,1.34,.20),(172.21,1.25,.25),(172.17,1.03,.22),(172.21,0.82,.25),(172.24,0.63,.25),(172.30,0.63,.35),(172.30,0.23,.35),
    (172.35,0.30,.42),(172.39,2.10,.45),(172.44,0.42,.42),(172.46,0.87,.42),(172.48,0.91,.42),(172.53,0.98,.40),(172.55,1.00,.42),(172.64,1.72,.45),(172.69,1.72,.45),
    (172.80,1.03,.45),(172.78,0.77,.45),(172.84,0.77,.42),(172.89,0.70,.45),(172.91,0.70,.42),(172.66,0.56,.42),(172.75,0.49,.42),(172.71,0.15,.42),(172.75,0.10,.42),
    (172.82,0.10,.45),(172.78,0.23,.45),(172.86,0.23,.42),(172.91,0.10,.45),(172.80,0.42,.45),(172.91,0.42,.42),(172.95,1.00,.45),(172.97,0.80,.45),(172.78,2.48,.35),
    (173.13,2.03,.35),(173.24,2.10,.35),(173.29,1.98,.42),(173.20,0.42,.35),(173.26,1.08,.25),(173.40,2.29,.30),(173.47,2.26,.28),(173.40,1.88,.35),(173.56,0.30,.45),
    (173.65,0.30,.45),(173.69,0.37,.45),(173.71,0.77,.45),(173.60,1.17,.42),
    (173.96,0.32,.45),(174.02,1.84,.30),(174.19,0.70,.32),(174.30,2.07,.25),(174.30,1.77,.28),(174.38,1.91,.45),(174.41,0.23,.30),(174.70,0.82,.45),(174.72,0.94,.50),
    (174.90,0.65,.45),(174.90,0.13,.45),(174.88,2.12,.60),
    (175.10,0.44,.45),(175.17,0.37,.50),(175.14,0.82,.45),(175.26,0.72,.45),(175.28,0.13,.65),(175.39,1.86,.50),(175.46,1.79,.50),(175.55,2.17,.85),(175.62,2.07,.45),
    (175.57,0.87,.45),(175.91,0.75,.45),(175.93,0.87,.45),
    (176.04,0.42,.45),(176.13,1.93,.50),(176.17,1.86,.50),(176.38,1.84,.45),(176.58,0.91,.42),(176.60,2.17,.85),(176.82,0.44,.45),(176.89,0.42,.45),(176.89,0.13,.45),
    (177.05,1.00,.45),(177.07,0.63,.35),(177.09,0.32,.35),(177.16,1.95,.35),(177.20,2.07,.35),(177.41,2.03,.85),(177.41,0.96,.45),(177.45,0.82,.45),(177.43,0.70,.45),
    (177.52,0.51,.45),(177.58,0.51,.45),(177.67,1.08,.45),(177.65,0.70,.45),(177.72,0.63,.42),(177.78,0.42,.42),(177.83,0.51,.42),(177.76,1.93,.35),(177.85,1.84,.30),
    (177.94,1.81,.30),(177.90,0.23,.45),(177.92,0.11,.70),(177.94,2.43,.35),(177.96,1.98,.15),(178.03,1.98,.15),(177.94,0.72,.35),(177.94,1.08,.35),
    (178.12,2.14,.45),(178.23,0.20,.45),(178.25,0.10,.45),(178.33,0.80,.25),(178.41,0.87,.25),(178.33,1.20,.25),(178.39,1.98,.30),(178.35,1.81,.35),(178.48,0.37,.40),
    (178.57,0.42,.42),(178.59,0.32,.45),(178.57,0.63,.45),(178.61,0.51,.45),(178.72,0.80,.45),(178.72,0.51,.50),(178.68,0.11,.45),(178.66,1.72,.45),(178.88,0.11,.85),
    (178.93,0.51,.45),(178.90,0.68,.45),(178.93,0.72,.45),(178.81,0.20,.45),(178.88,0.23,.45),(178.99,0.32,.45),
    (179.08,0.11,.85),(179.02,1.86,.45),(179.04,1.72,.60),(179.11,1.88,.45),(179.17,1.98,.45),(179.35,1.77,.30),(179.42,1.91,.45),(179.51,2.00,.45),(179.44,0.63,.45),
    (179.46,0.51,.45),(179.53,0.58,.25),(179.42,0.37,.35),(179.44,0.27,.35),(179.60,0.44,.55),(179.62,0.37,.55),(179.55,0.13,.45),(179.66,0.23,.45),(179.71,0.23,.45),
    (179.73,0.60,.45),(179.80,0.51,.45),(179.82,0.51,.45),(179.87,0.72,.45),(179.89,0.60,.45),(179.91,0.11,.40),(179.98,2.24,.60),(179.95,2.03,.40),(179.91,1.13,.30),
    (179.91,1.22,.30),
    (180.04,0.80,.45),(180.09,0.94,.42),(180.16,0.94,.42),(180.27,0.87,.35),(180.13,0.63,.45),(180.11,0.20,.45),(180.22,0.42,.30),(180.22,0.32,.25),(180.25,1.15,.25),
    (180.18,1.77,.35),(180.27,1.84,.35),(180.31,1.81,.40),(180.36,1.86,.35),(180.51,1.98,.60),(180.56,1.88,.60),(180.60,1.81,.60),(180.45,0.51,.45),(180.43,0.37,.50),
    (180.51,0.20,.45),(180.60,0.32,.45),(180.65,0.20,.50),(180.69,0.13,.45),(180.72,0.11,.45),(180.80,0.20,.45),(180.72,0.87,.45),(180.76,0.89,.45),(180.80,0.72,.45),
    (180.89,0.87,.45),(180.92,0.72,.45),(180.94,0.60,.45),(180.74,0.51,.45),(180.78,0.51,.45),(180.87,0.42,.45),(180.83,2.12,.45),(180.85,1.74,.45),
    (181.03,2.10,.45),(181.08,2.17,.45),(181.19,2.29,.45),(181.23,1.93,.45),(181.32,1.88,.45),(181.38,2.05,.45),(181.40,2.10,.45),(181.50,0.42,.45),(181.54,0.39,.45),
    (181.56,0.27,.45),(181.54,0.15,.45),(181.56,0.87,.45),(181.59,0.77,.45),(181.59,0.68,.45),(181.74,0.11,.65),(181.77,0.42,.45),(181.90,2.43,.45),(181.92,1.98,.45),
    (181.90,0.44,.45),(181.92,0.89,.45),(181.92,0.72,.45),(181.90,0.63,.45),(181.97,1.72,.45),
]


# ---------------- helpers ----------------
def sample_times(rows, centered=True):
    out = []
    off = 0.5 if centered else 0.0
    for k, row in enumerate(rows):
        n = len(row)
        out.extend(first_day + k + (np.arange(n) + off) / n)
    return np.array(out)


def flat(rows):
    return np.concatenate([np.asarray(r, dtype=float) for r in rows])


def panel_frame(rows, extra, extra_has_color=True):
    df_main = pd.DataFrame({"t": sample_times(rows), "v": flat(rows), "c": flat(beam_power)})
    if extra_has_color:
        ex = pd.DataFrame(extra, columns=["t", "v", "c"])
    else:
        ex = pd.DataFrame(extra, columns=["t", "v"])
        ex["c"] = ex["v"]
    return pd.concat([df_main, ex], ignore_index=True)


# ---------------- figure ----------------
fig = plt.figure(figsize=(12.02, 9.72), dpi=100)
L, W, H = 0.0771, 0.8672, 0.1821
bottoms = [0.7798, 0.5401, 0.3014, 0.0628]
axes = [fig.add_axes([L, b, W, H]) for b in bottoms]

spine_col = "0.35"
pt_size = 62
pt_alpha = 0.55
colour_norm = (0.18, 0.73)

frames = [
    panel_frame(beam_power, beam_extra, extra_has_color=False),
    panel_frame(abs_power, abs_extra),
    panel_frame(azimuth, azimuth_extra),
    panel_frame(slowness, slowness_extra),
]
ylabels = ["Beam.power", "Abs.power", "Azimuth [deg]", "Slowness [s/km]"]
ylims = [(0.1, 1.0), (0.0, 1.0), (0, 360), (0.0, 2.5)]
yticks = [[0.2, 0.4, 0.6, 0.8, 1.0], [0.0, 0.2, 0.4, 0.6, 0.8, 1.0],
          [0, 90, 180, 270, 360], [0.5, 1.0, 1.5, 2.0, 2.5]]
yfmt = ["{:.1f}", "{:.1f}", "{:d}", "{:.1f}"]
letters = ["(a)", "(b)", "(c)", "(d)"]

for i, ax in enumerate(axes):
    for d in day_lines:
        ax.axvline(d, color="0.65", ls="-.", lw=0.8, zorder=0)
    sns.scatterplot(data=frames[i], x="t", y="v", hue="c", palette="viridis",
                    hue_norm=colour_norm, s=pt_size, alpha=pt_alpha, linewidth=0,
                    edgecolor="none", legend=False, ax=ax, zorder=2)
    ax.set_xlim(168, 182)
    ax.set_ylim(*ylims[i])
    ax.set_xticks(day_ticks)
    ax.set_yticks(yticks[i])
    ax.set_yticklabels([yfmt[i].format(v) for v in yticks[i]])
    ax.set_ylabel(ylabels[i], fontsize=16)
    ax.set_xlabel("")
    ax.tick_params(axis="both", which="major", direction="out", length=3.5, width=2.5,
                   color="black", labelsize=15, bottom=True, left=True, pad=3)
    if i < 3:
        ax.set_xticklabels([])
    for s in ax.spines.values():
        s.set_color(spine_col)
        s.set_linewidth(1.3)
    ax.text(0.003, 1.025, letters[i], transform=ax.transAxes, fontsize=17,
            ha="left", va="baseline")

axes[3].set_xticklabels([str(d) for d in day_ticks])
axes[3].set_xlabel("Julian Day, 2021", fontsize=16)

# day-of-week names above panel (a)
trans = mtransforms.blended_transform_factory(axes[0].transData, axes[0].transAxes)
for d, name in zip(day_lines, day_names):
    axes[0].text(d + 0.02, 1.02, name, transform=trans, fontsize=15,
                 ha="left", va="baseline")

# wind speed on twin axis of panel (b)
axw = axes[1].twinx()
wind_df = pd.DataFrame({"t": sample_times(wind_speed, centered=False), "w": flat(wind_speed)})
sns.lineplot(data=wind_df, x="t", y="w", color="red", lw=0.6, estimator=None, ax=axw)
axw.set_xlim(168, 182)
axw.set_ylim(0, 15)
axw.set_yticks([0, 5, 10, 15])
axw.set_ylabel("Wind Speed [m/s]", color="red", fontsize=15.5)
axw.set_xlabel("")
axw.tick_params(axis="y", direction="out", length=3.5, width=2.5, colors="red",
                labelsize=14.5, right=True, pad=3)
for s in axw.spines.values():
    s.set_color(spine_col)
    s.set_linewidth(1.3)

# colour bar for beam power
cax = fig.add_axes([0.9567, 0.7808, 0.0083, 0.1811])
sm = plt.cm.ScalarMappable(norm=Normalize(0, 1), cmap="viridis")
sm.set_array([])
cb = fig.colorbar(sm, cax=cax, alpha=pt_alpha + 0.15)
cb.set_ticks([0.0, 0.2, 0.4, 0.6, 0.8, 1.0])
cb.ax.tick_params(labelsize=11.5, length=3, width=0.8, color="0.3")
cb.outline.set_edgecolor("0.6")
cb.outline.set_linewidth(0.6)

fig.savefig("out.png", dpi=100)
